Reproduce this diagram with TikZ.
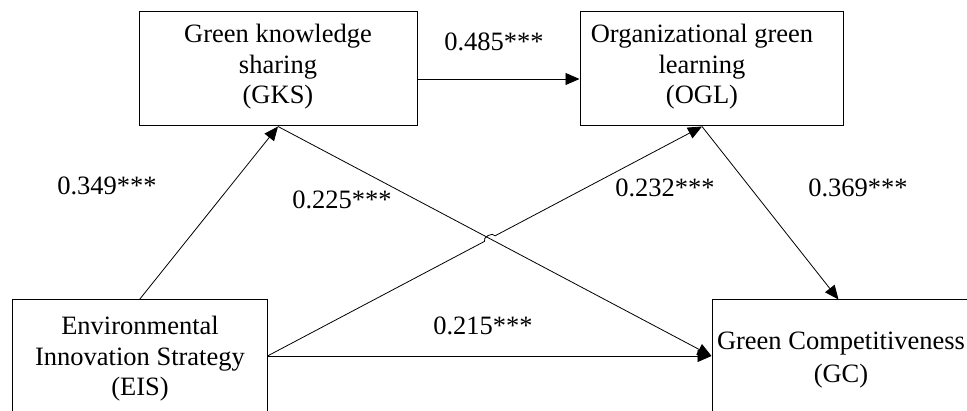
\documentclass[tikz,border=0pt]{standalone}
\usepackage{fontspec}
\setmainfont{Liberation Serif}
\usetikzlibrary{arrows.meta,calc}
\tikzset{
  boxnode/.style={draw=black, line width=1pt, rectangle, inner sep=0pt},
  txt/.style={align=center, inner sep=0pt, font=\fontsize{26.5}{30.5}\selectfont},
  lbl/.style={inner sep=0pt, font=\fontsize{26.5}{30.5}\selectfont},
  conn/.style={line width=0.8pt, -{Triangle[length=14pt,width=12pt]}},
  plain/.style={line width=0.8pt}
}
\begin{document}
\begin{tikzpicture}[x=1pt,y=1pt]
\clip (0,0) rectangle (967,410);
\fill[white] (0,0) rectangle (967,410);
% boxes
\node[boxnode, minimum width=278pt, minimum height=114pt] (gks) at (278,341) {};
\node[boxnode, minimum width=263pt, minimum height=114pt] (ogl) at (711.5,341) {};
\node[boxnode, minimum width=255pt, minimum height=112pt] (eis) at (139.5,54) {};
\node[boxnode, minimum width=263pt, minimum height=112pt] (gc) at (843.5,54) {};
% texts
\node[txt] (tgks) at (278,343) {Green knowledge\\sharing\\(GKS)};
\node[txt] (togl) at (702,343) {Organizational green\\learning\\(OGL)};
\node[txt] (teis) at (140,51) {Environmental\\Innovation Strategy\\(EIS)};
\node[txt, font=\fontsize{26.5}{33}\selectfont] (tgc) at (841,50) {Green Competitiveness\\(GC)};
% anchor coordinates
\coordinate (oglB) at ([xshift=-9.5pt]ogl.south);
\coordinate (gcT) at ([xshift=-5pt]gc.north);
\coordinate (gksR) at ([yshift=-10pt]gks.east);
\coordinate (oglL) at ([yshift=-10pt]ogl.west);
\coordinate (X) at (intersection of eis.east--oglB and gks.south--gc.west);
\coordinate (hs) at ($(X)!6pt!(eis.east)$);
\coordinate (he) at ($(X)!6pt!(oglB)$);
% connectors
\draw[conn] (eis.north) -- (gks.south);
\draw[conn] (gksR) -- (oglL);
\draw[conn] (gks.south) -- (gc.west);
\draw[conn] (eis.east) -- (gc.west);
\draw[conn] (eis.east) -- (hs) to[bend left=90] (he) -- (oglB);
\draw[conn] (oglB) -- (gcT);
% labels
\node[lbl] (l1) at (494,368) {0.485***};
\node[lbl] (l2) at (107,224) {0.349***};
\node[lbl] (l3) at (342,210) {0.225***};
\node[lbl] (l4) at (665,222) {0.232***};
\node[lbl] (l5) at (858,222) {0.369***};
\node[lbl] (l6) at (483,84) {0.215***};
\end{tikzpicture}
\end{document}
